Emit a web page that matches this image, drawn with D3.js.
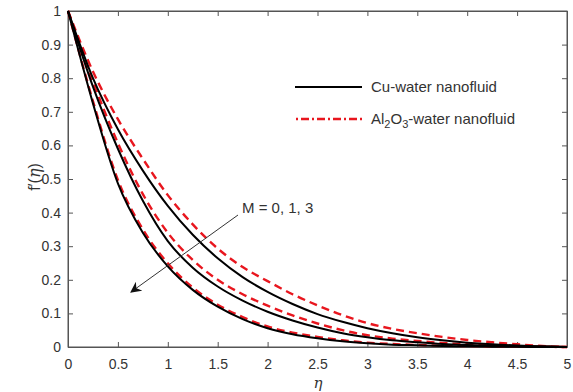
<!DOCTYPE html>
<html>
<head>
<meta charset="utf-8">
<script src="https://cdn.jsdelivr.net/npm/d3@7"></script>
<style>
  html, body { margin: 0; padding: 0; background: #fff; }
  svg { display: block; font-family: "Liberation Sans", Arial, sans-serif; }
</style>
</head>
<body>
<svg id="chart" width="573" height="392"></svg>
<script>
// Similarity variable eta
const eta = [0, 0.25, 0.5, 0.75, 1.0, 1.25, 1.5, 1.75, 2.0, 2.25, 2.5, 2.75,
             3.0, 3.25, 3.5, 3.75, 4.0, 4.25, 4.5, 4.75, 5.0];

// f'(eta) for Cu-water nanofluid, M = 0, 1, 3
const cuM0 = [1, 0.80, 0.648, 0.525, 0.42, 0.334, 0.264, 0.208, 0.164, 0.128, 0.098, 0.075,
              0.056, 0.041, 0.029, 0.020, 0.013, 0.008, 0.0045, 0.002, 0];
const cuM1 = [1, 0.775, 0.59, 0.435, 0.315, 0.236, 0.18, 0.138, 0.105, 0.079, 0.058, 0.041,
              0.029, 0.020, 0.014, 0.009, 0.006, 0.004, 0.002, 0.001, 0];
const cuM3 = [1, 0.725, 0.487, 0.34, 0.24, 0.17, 0.12, 0.083, 0.056, 0.038, 0.026, 0.017,
              0.011, 0.007, 0.005, 0.003, 0.002, 0.001, 0.0005, 0.0002, 0];

// f'(eta) for Al2O3-water nanofluid, M = 0, 1, 3
const alM0 = [1, 0.82, 0.678, 0.56, 0.452, 0.365, 0.293, 0.238, 0.196, 0.157, 0.124, 0.095,
              0.071, 0.054, 0.041, 0.030, 0.021, 0.014, 0.008, 0.003, 0];
const alM1 = [1, 0.79, 0.607, 0.455, 0.34, 0.259, 0.2, 0.157, 0.123, 0.094, 0.07, 0.05,
              0.035, 0.025, 0.018, 0.012, 0.008, 0.005, 0.003, 0.001, 0];
const alM3 = [1, 0.732, 0.497, 0.35, 0.249, 0.177, 0.126, 0.089, 0.061, 0.043, 0.03, 0.02,
              0.013, 0.009, 0.006, 0.004, 0.003, 0.002, 0.001, 0.0005, 0];

const xTicks = [0, 0.5, 1, 1.5, 2, 2.5, 3, 3.5, 4, 4.5, 5];
const yTicks = [0, 0.1, 0.2, 0.3, 0.4, 0.5, 0.6, 0.7, 0.8, 0.9, 1];

const legendLabels = ["Cu-water nanofluid", "Al2O3-water nanofluid"];
const annotation = "M = 0, 1, 3";

const svg = d3.select("#chart");
const L = 68, R = 567, T = 11, B = 347;

const x = d3.scaleLinear().domain([0, 5]).range([L, R]);
const y = d3.scaleLinear().domain([0, 1]).range([B, T]);

const axisColor = "#555";
const textColor = "#333";

// Frame
svg.append("rect")
  .attr("x", L).attr("y", T).attr("width", R - L).attr("height", B - T)
  .attr("fill", "none").attr("stroke", axisColor).attr("stroke-width", 1);

// Axes with inward ticks
const fmt = d => d3.format("")(d);
const gx = svg.append("g").attr("transform", `translate(0,${B})`)
  .call(d3.axisBottom(x).tickValues(xTicks).tickSizeInner(-5).tickSizeOuter(0).tickPadding(12).tickFormat(fmt));
const gxTop = svg.append("g").attr("transform", `translate(0,${T})`)
  .call(d3.axisTop(x).tickValues(xTicks).tickSizeInner(-5).tickSizeOuter(0).tickFormat(""));
const gy = svg.append("g").attr("transform", `translate(${L},0)`)
  .call(d3.axisLeft(y).tickValues(yTicks).tickSizeInner(-5).tickSizeOuter(0).tickPadding(7).tickFormat(fmt));
const gyRight = svg.append("g").attr("transform", `translate(${R},0)`)
  .call(d3.axisRight(y).tickValues(yTicks).tickSizeInner(-5).tickSizeOuter(0).tickFormat(""));

[gx, gxTop, gy, gyRight].forEach(g => {
  g.select(".domain").attr("stroke", axisColor);
  g.selectAll(".tick line").attr("stroke", axisColor);
  g.selectAll(".tick text").attr("fill", textColor).style("font-size", "14px")
    .style("font-family", "'Liberation Sans', Arial, sans-serif");
});

// Curves
const line = d3.line()
  .x((d, i) => x(eta[i]))
  .y(d => y(d))
  .curve(d3.curveMonotoneX);

const plot = svg.append("g");
const red = "#e8161e";

[alM0, alM1, alM3].forEach(s => {
  plot.append("path").datum(s).attr("d", line)
    .attr("fill", "none").attr("stroke", red).attr("stroke-width", 2.4)
    .attr("stroke-dasharray", "8,5");
});
[cuM0, cuM1, cuM3].forEach(s => {
  plot.append("path").datum(s).attr("d", line)
    .attr("fill", "none").attr("stroke", "#000").attr("stroke-width", 2);
});

// Legend
const leg = svg.append("g");
leg.append("line").attr("x1", 295).attr("x2", 362).attr("y1", 87).attr("y2", 87)
  .attr("stroke", "#000").attr("stroke-width", 2);
leg.append("text").attr("x", 371).attr("y", 92).attr("fill", textColor)
  .style("font-size", "15px").text(legendLabels[0]);
leg.append("line").attr("x1", 296).attr("x2", 362).attr("y1", 119).attr("y2", 119)
  .attr("stroke", red).attr("stroke-width", 2.4).attr("stroke-dasharray", "2,3,8,3");
const t2 = leg.append("text").attr("x", 371).attr("y", 124).attr("fill", textColor)
  .style("font-size", "15px");
t2.append("tspan").text("Al");
t2.append("tspan").attr("dy", 4).style("font-size", "11px").text("2");
t2.append("tspan").attr("dy", -4).text("O");
t2.append("tspan").attr("dy", 4).style("font-size", "11px").text("3");
t2.append("tspan").attr("dy", -4).text("-water nanofluid");

// Annotation arrow
svg.append("defs").append("marker")
  .attr("id", "head").attr("viewBox", "0 0 10 10").attr("refX", 9).attr("refY", 5)
  .attr("markerWidth", 11).attr("markerHeight", 11).attr("markerUnits", "userSpaceOnUse")
  .attr("orient", "auto")
  .append("path").attr("d", "M0,0 L10,5 L0,10 L3,5 Z").attr("fill", "#111");

svg.append("line")
  .attr("x1", 238).attr("y1", 215).attr("x2", 131).attr("y2", 292)
  .attr("stroke", "#333").attr("stroke-width", 1)
  .attr("marker-end", "url(#head)");

svg.append("text").attr("x", 242).attr("y", 213).attr("fill", textColor)
  .style("font-size", "15px").text(annotation);

// Axis titles
svg.append("text").attr("x", 318).attr("y", 388).attr("text-anchor", "middle")
  .attr("fill", textColor).style("font-size", "15px")
  .style("font-family", "'DejaVu Serif', serif").style("font-style", "italic").text("η");

const yl = svg.append("text").attr("transform", "translate(40,177) rotate(-90)")
  .attr("text-anchor", "middle").attr("fill", textColor).style("font-size", "16px");
yl.append("tspan").text("f′(");
yl.append("tspan").style("font-family", "'DejaVu Serif', serif").style("font-style", "italic").text("η");
yl.append("tspan").text(")");
</script>
</body>
</html>
